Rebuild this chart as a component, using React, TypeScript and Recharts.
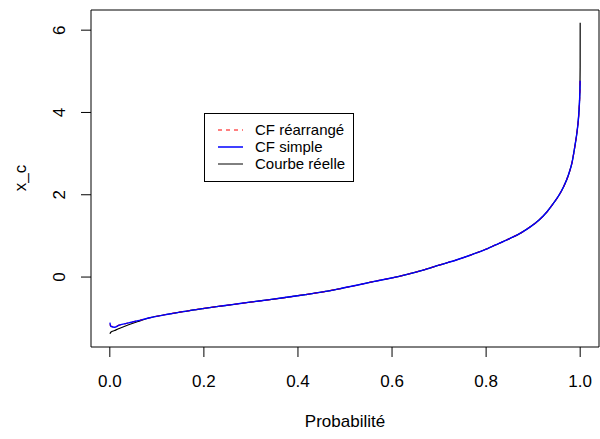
import React from 'react'
import { LineChart, Line, XAxis, YAxis, ReferenceArea } from 'recharts'

// probabilities and the three quantile curves
const probs = [
  0.0002, 0.002, 0.01, 0.02, 0.04, 0.06, 0.085, 0.12, 0.155, 0.19, 0.227, 0.26, 0.298, 0.34,
  0.383, 0.42, 0.453, 0.49, 0.525, 0.56, 0.596, 0.63, 0.666, 0.7, 0.738, 0.766, 0.794, 0.82,
  0.851, 0.875, 0.894, 0.912, 0.929, 0.943, 0.954, 0.965, 0.975, 0.983, 0.989, 0.993, 0.9965,
  0.9985, 0.9995, 0.9999, 0.99999,
]
const cfRearrange = [
  -1.15, -1.19, -1.21, -1.17, -1.115, -1.06, -0.99, -0.91, -0.84, -0.78, -0.72, -0.67, -0.61, -0.55,
  -0.48, -0.42, -0.36, -0.28, -0.2, -0.11, -0.03, 0.06, 0.17, 0.29, 0.42, 0.53, 0.65, 0.78,
  0.94, 1.08, 1.22, 1.38, 1.58, 1.79, 1.97, 2.2, 2.48, 2.8, 3.2, 3.5, 3.88,
  4.25, 4.58, 4.8, null,
]
const cfSimple = [
  -1.11, -1.2, -1.22, -1.17, -1.115, -1.06, -0.99, -0.91, -0.84, -0.78, -0.72, -0.67, -0.61, -0.55,
  -0.48, -0.42, -0.36, -0.28, -0.2, -0.11, -0.03, 0.06, 0.17, 0.29, 0.42, 0.53, 0.65, 0.78,
  0.94, 1.08, 1.22, 1.38, 1.58, 1.79, 1.97, 2.2, 2.48, 2.8, 3.2, 3.5, 3.88,
  4.25, 4.55, 4.77, null,
]
const courbeReelle = [
  -1.38, -1.34, -1.3, -1.25, -1.16, -1.08, -0.99, -0.91, -0.84, -0.78, -0.72, -0.67, -0.61, -0.55,
  -0.48, -0.42, -0.36, -0.28, -0.2, -0.11, -0.03, 0.06, 0.17, 0.29, 0.42, 0.53, 0.65, 0.78,
  0.94, 1.08, 1.22, 1.38, 1.58, 1.79, 1.97, 2.2, 2.48, 2.8, 3.2, 3.5, 3.88,
  4.25, 4.62, 5.1, 6.18,
]
const xTicks = [0, 0.2, 0.4, 0.6, 0.8, 1]
const yTicks = [0, 2, 4, 6]

const data = probs.map((p, i) => ({
  p,
  rearr: cfRearrange[i],
  simple: cfSimple[i],
  reel: courbeReelle[i],
}))

const FONT = '"Liberation Sans", Arial, sans-serif'

const XTick = ({ x, payload }: any) => (
  <text x={x} y={381} dy="0.35em" textAnchor="middle" fontSize={17} fontFamily={FONT} fill="#000">
    {payload.value.toFixed(1)}
  </text>
)

const YTick = ({ y, payload }: any) => (
  <text
    x={59}
    y={y}
    dy="0.35em"
    textAnchor="middle"
    transform={`rotate(-90 59 ${y})`}
    fontSize={17}
    fontFamily={FONT}
    fill="#000"
  >
    {payload.value}
  </text>
)

const legendItems = [
  { label: 'CF réarrangé', color: '#ff0000', dash: '4 4', width: 1 },
  { label: 'CF simple', color: '#0000ff', dash: undefined, width: 1.5 },
  { label: 'Courbe réelle', color: '#000000', dash: undefined, width: 1 },
]

export default function App() {
  return (
    <div style={{ position: 'relative', width: 600, height: 439, background: '#fff' }}>
      <style>{`body{margin:0}`}</style>
      <LineChart width={600} height={439} data={data} margin={{ top: 10, right: 1, left: 0, bottom: 0 }}>
        <XAxis
          dataKey="p"
          type="number"
          domain={[-0.04, 1.04]}
          ticks={xTicks}
          tick={<XTick />}
          tickSize={10}
          axisLine={false}
          tickLine={{ stroke: '#000' }}
          height={92}
          label={{
            content: () => (
              <text x={345} y={421} dy="0.35em" textAnchor="middle" fontSize={17} fontFamily={FONT} fill="#000">
                Probabilité
              </text>
            ),
          }}
        />
        <YAxis
          type="number"
          domain={[-1.7, 6.49]}
          ticks={yTicks}
          tick={<YTick />}
          tickSize={10}
          axisLine={false}
          tickLine={{ stroke: '#000' }}
          width={91}
          allowDataOverflow
          label={{
            content: () => (
              <text
                x={20}
                y={178}
                dy="0.35em"
                textAnchor="middle"
                transform="rotate(-90 20 178)"
                fontSize={17}
                fontFamily={FONT}
                fill="#000"
              >
                x_c
              </text>
            ),
          }}
        />
        <ReferenceArea x1={-0.04} x2={1.04} y1={-1.7} y2={6.49} fill="none" stroke="#000" strokeWidth={1} />
        <Line type="monotone" dataKey="reel" stroke="#000" strokeWidth={1.2} dot={false} isAnimationActive={false} />
        <Line
          type="monotone"
          dataKey="rearr"
          stroke="#ff0000"
          strokeWidth={1.2}
          strokeDasharray="4 4"
          dot={false}
          isAnimationActive={false}
        />
        <Line type="monotone" dataKey="simple" stroke="#0000ff" strokeWidth={1.4} dot={false} isAnimationActive={false} />
      </LineChart>

      {/* legend box, R style */}
      <div
        style={{
          position: 'absolute',
          left: 204,
          top: 113,
          width: 148,
          height: 67,
          border: '1px solid #000',
          fontFamily: FONT,
          fontSize: 15,
          background: '#fff',
        }}
      >
        {legendItems.map((it, i) => (
          <div key={it.label} style={{ position: 'absolute', left: 0, top: 16 + i * 17 - 9, height: 18, width: '100%' }}>
            <svg width={40} height={18} style={{ position: 'absolute', left: 0, top: 0 }}>
              <line x1={13} x2={38} y1={9} y2={9} stroke={it.color} strokeWidth={it.width} strokeDasharray={it.dash} />
            </svg>
            <span style={{ position: 'absolute', left: 50, top: 0, lineHeight: '18px', whiteSpace: 'nowrap' }}>{it.label}</span>
          </div>
        ))}
      </div>
    </div>
  )
}
